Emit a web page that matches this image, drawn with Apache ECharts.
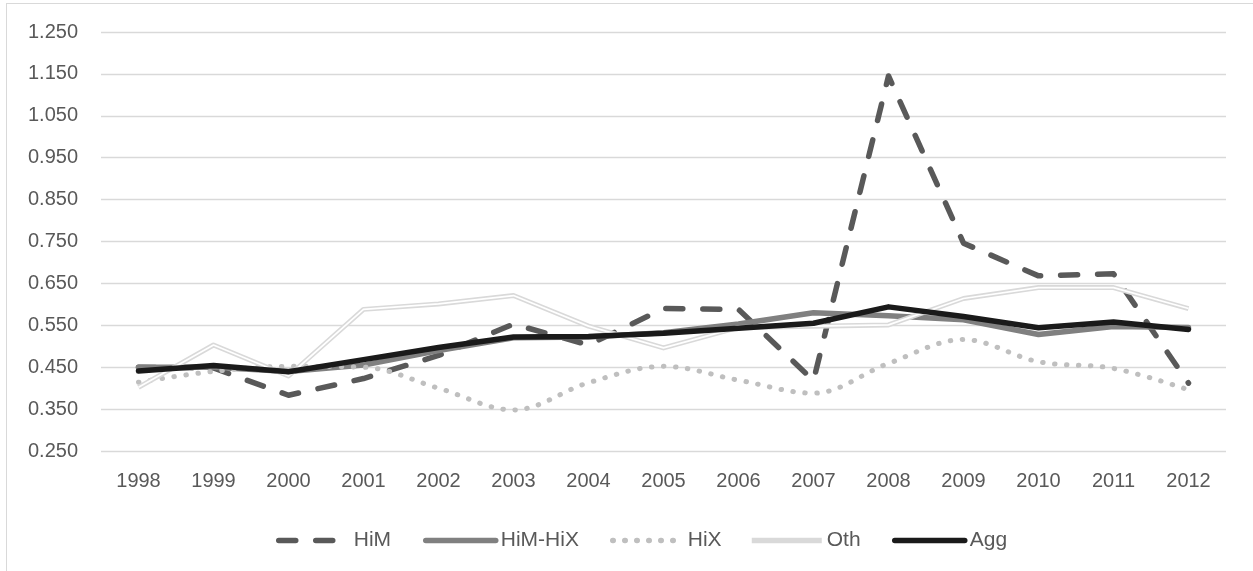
<!DOCTYPE html>
<html>
<head>
<meta charset="utf-8">
<script src="https://cdn.jsdelivr.net/npm/echarts@6/dist/echarts.min.js"></script>
<style>
  html, body { margin: 0; padding: 0; background: #fff; }
  #frame { position: absolute; left: 6px; top: 3px; width: 1260px; height: 600px; border: 1px solid #d9d9d9; box-sizing: border-box; }
  #chart { position: absolute; left: 0; top: 0; width: 1253px; height: 571px; }
</style>
</head>
<body>
<div id="frame"></div>
<div id="chart"></div>
<script>
const years = ['1998','1999','2000','2001','2002','2003','2004','2005','2006','2007','2008','2009','2010','2011','2012'];
const HiM    = [0.450, 0.448, 0.383, 0.423, 0.478, 0.553, 0.503, 0.590, 0.588, 0.418, 1.145, 0.746, 0.668, 0.673, 0.412];
const HiMHiX = [0.450, 0.450, 0.440, 0.455, 0.490, 0.520, 0.522, 0.532, 0.553, 0.580, 0.573, 0.563, 0.528, 0.547, 0.545];
const HiX    = [0.414, 0.440, 0.452, 0.450, 0.400, 0.348, 0.413, 0.452, 0.419, 0.388, 0.459, 0.516, 0.463, 0.447, 0.396];
const Oth    = [0.402, 0.503, 0.429, 0.588, 0.601, 0.621, 0.548, 0.496, 0.545, 0.548, 0.551, 0.614, 0.640, 0.640, 0.590];
const Agg    = [0.441, 0.454, 0.439, 0.468, 0.497, 0.522, 0.523, 0.531, 0.543, 0.555, 0.594, 0.571, 0.544, 0.558, 0.540];
const seriesNames = ['HiM', 'HiM-HiX', 'HiX', 'Oth', 'Agg'];

const FONT = 'Liberation Sans';
const legendLefts = [271, 418, 605, 744, 887];
const legends = seriesNames.map((n, i) => ({
  data: [n],
  left: legendLefts[i], top: 525,
  itemWidth: 70, itemHeight: 14,
  itemStyle: { opacity: 0 },
  lineStyle: { width: 5.5 },
  textStyle: { fontFamily: FONT, fontSize: 21, color: '#595959' }
}));

const chart = echarts.init(document.getElementById('chart'), null, { renderer: 'canvas' });
chart.setOption({
  animation: false,
  backgroundColor: 'transparent',
  grid: { left: 101, right: 27, top: 32, bottom: 120 },
  legend: legends,
  xAxis: {
    type: 'category', data: years, boundaryGap: true,
    axisLine: { show: false }, axisTick: { show: false },
    axisLabel: { fontFamily: FONT, fontSize: 20, color: '#595959', margin: 20 }
  },
  yAxis: {
    type: 'value', min: 0.25, max: 1.25, interval: 0.05,
    axisLine: { show: false }, axisTick: { show: false },
    axisLabel: {
      fontFamily: FONT, fontSize: 20, color: '#595959', margin: 23,
      formatter: v => (Math.round(v * 20) % 2 === 1) ? v.toFixed(3) : ''
    },
    splitLine: { lineStyle: { color: ['#d9d9d9', 'rgba(0,0,0,0)'], width: 1.3 } }
  },
  series: [
    { name: 'HiM', type: 'line', data: HiM, symbol: 'none', z: 2,
      lineStyle: { color: '#595959', width: 5.5, type: [17, 20], cap: 'round', join: 'round' },
      itemStyle: { color: '#595959' } },
    { name: 'HiM-HiX', type: 'line', data: HiMHiX, symbol: 'none', z: 3,
      lineStyle: { color: '#808080', width: 5.5, cap: 'round', join: 'round' },
      itemStyle: { color: '#808080' } },
    { name: 'HiX', type: 'line', data: HiX, symbol: 'none', smooth: 0.35, z: 4,
      lineStyle: { color: '#bfbfbf', width: 5, type: [0.5, 11.5], cap: 'round' },
      itemStyle: { color: '#bfbfbf' } },
    { name: 'Oth', type: 'line', data: Oth, symbol: 'none', z: 5,
      lineStyle: { color: '#d9d9d9', width: 5, join: 'round' },
      itemStyle: { color: '#d9d9d9' } },
    { name: 'Oth-inner', type: 'line', data: Oth, symbol: 'none', z: 6, silent: true,
      lineStyle: { color: '#ffffff', width: 1.7, join: 'round' },
      itemStyle: { color: '#ffffff' } },
    { name: 'Agg', type: 'line', data: Agg, symbol: 'none', z: 7,
      lineStyle: { color: '#1a1a1a', width: 5.5, cap: 'round', join: 'round' },
      itemStyle: { color: '#1a1a1a' } }
  ]
});
</script>
</body>
</html>
